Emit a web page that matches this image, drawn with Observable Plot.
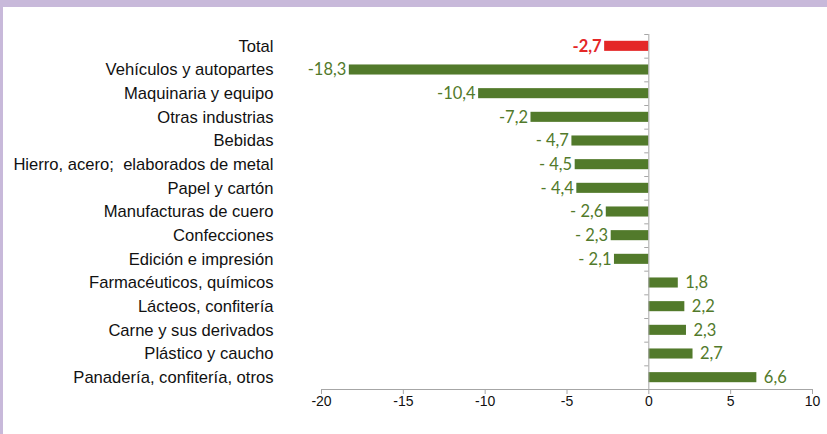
<!DOCTYPE html>
<html>
<head>
<meta charset="utf-8">
<script src="https://cdn.jsdelivr.net/npm/d3@7"></script>
<script src="https://cdn.jsdelivr.net/npm/@observablehq/plot@0.6"></script>
<style>
  html, body { margin: 0; padding: 0; background: #fff; }
  #frame { width: 824px; height: 427px; border-top: 7px solid #C8B9DA; border-left: 3px solid #C8B9DA; background: #fff; }
  svg { display: block; }
  svg text { white-space: pre; }
</style>
</head>
<body>
<div id="frame"></div>
<script>
const categories = [
  "Total",
  "Vehículos y autopartes",
  "Maquinaria y equipo",
  "Otras industrias",
  "Bebidas",
  "Hierro, acero;  elaborados de metal",
  "Papel y cartón",
  "Manufacturas de cuero",
  "Confecciones",
  "Edición e impresión",
  "Farmacéuticos, químicos",
  "Lácteos, confitería",
  "Carne y sus derivados",
  "Plástico y caucho",
  "Panadería, confitería, otros"
];
const values = [-2.7, -18.3, -10.4, -7.2, -4.7, -4.5, -4.4, -2.6, -2.3, -2.1, 1.8, 2.2, 2.3, 2.7, 6.6];
const valueLabels = ["-2,7", "-18,3", "-10,4", "-7,2", "- 4,7", "- 4,5", "- 4,4", "- 2,6", "- 2,3", "- 2,1", "1,8", "2,2", "2,3", "2,7", "6,6"];
const xTicks = [-20, -15, -10, -5, 0, 5, 10];

const data = categories.map((c, i) => ({cat: c, value: values[i], label: valueLabels[i], total: i === 0}));
const green = "#527A2B";
const red = "#E42727";
const gray = "#A6A6A6";
const valueFont = "Lato, 'Open Sans', sans-serif";
const half = (382 - 27) / categories.length / 2;

const chart = Plot.plot({
  width: 824,
  height: 427,
  marginLeft: 318,
  marginRight: 15,
  marginTop: 27,
  marginBottom: 45,
  style: {fontFamily: "'Liberation Sans', Arial, sans-serif", fontSize: "16.6px", color: "#111", background: "#fff"},
  x: {domain: [-20, 10], ticks: xTicks, tickFormat: d => String(d), label: null},
  y: {domain: categories, padding: 0, round: false, label: null},
  marks: [
    Plot.barX(data, {y: "cat", x1: 0, x2: "value", fill: d => d.total ? red : green, insetTop: 6.8, insetBottom: 6.8}),
    Plot.ruleX([0], {stroke: gray, strokeWidth: 1}),
    Plot.ruleY(categories, {y: d => d, x1: -0.25, x2: 0, dy: -half, stroke: gray}),
    Plot.ruleY([categories[categories.length - 1]], {y: d => d, x1: -20, x2: 10, dy: half, stroke: gray}),
    Plot.axisX({ticks: xTicks, tickFormat: d => String(d), tickSize: 5, tickPadding: 2, stroke: gray, fill: "#111", fontSize: 14, label: null}),
    Plot.axisY({tickSize: 0, tickPadding: 48, fill: "#111", fontSize: 16.6, label: null}),
    Plot.text(data.filter(d => !d.total && d.value < 0), {y: "cat", x: "value", text: "label", textAnchor: "end", dx: -3, fill: green, fontSize: 16.5, fontFamily: valueFont}),
    Plot.text(data.filter(d => d.value > 0), {y: "cat", x: "value", text: "label", textAnchor: "start", dx: 7, fill: green, fontSize: 16.5, fontFamily: valueFont}),
    Plot.text(data.filter(d => d.total), {y: "cat", x: "value", text: "label", textAnchor: "end", dx: -3, fill: red, fontSize: 16.5, fontWeight: "bold", fontFamily: valueFont})
  ]
});
document.getElementById("frame").appendChild(chart);
</script>
</body>
</html>
